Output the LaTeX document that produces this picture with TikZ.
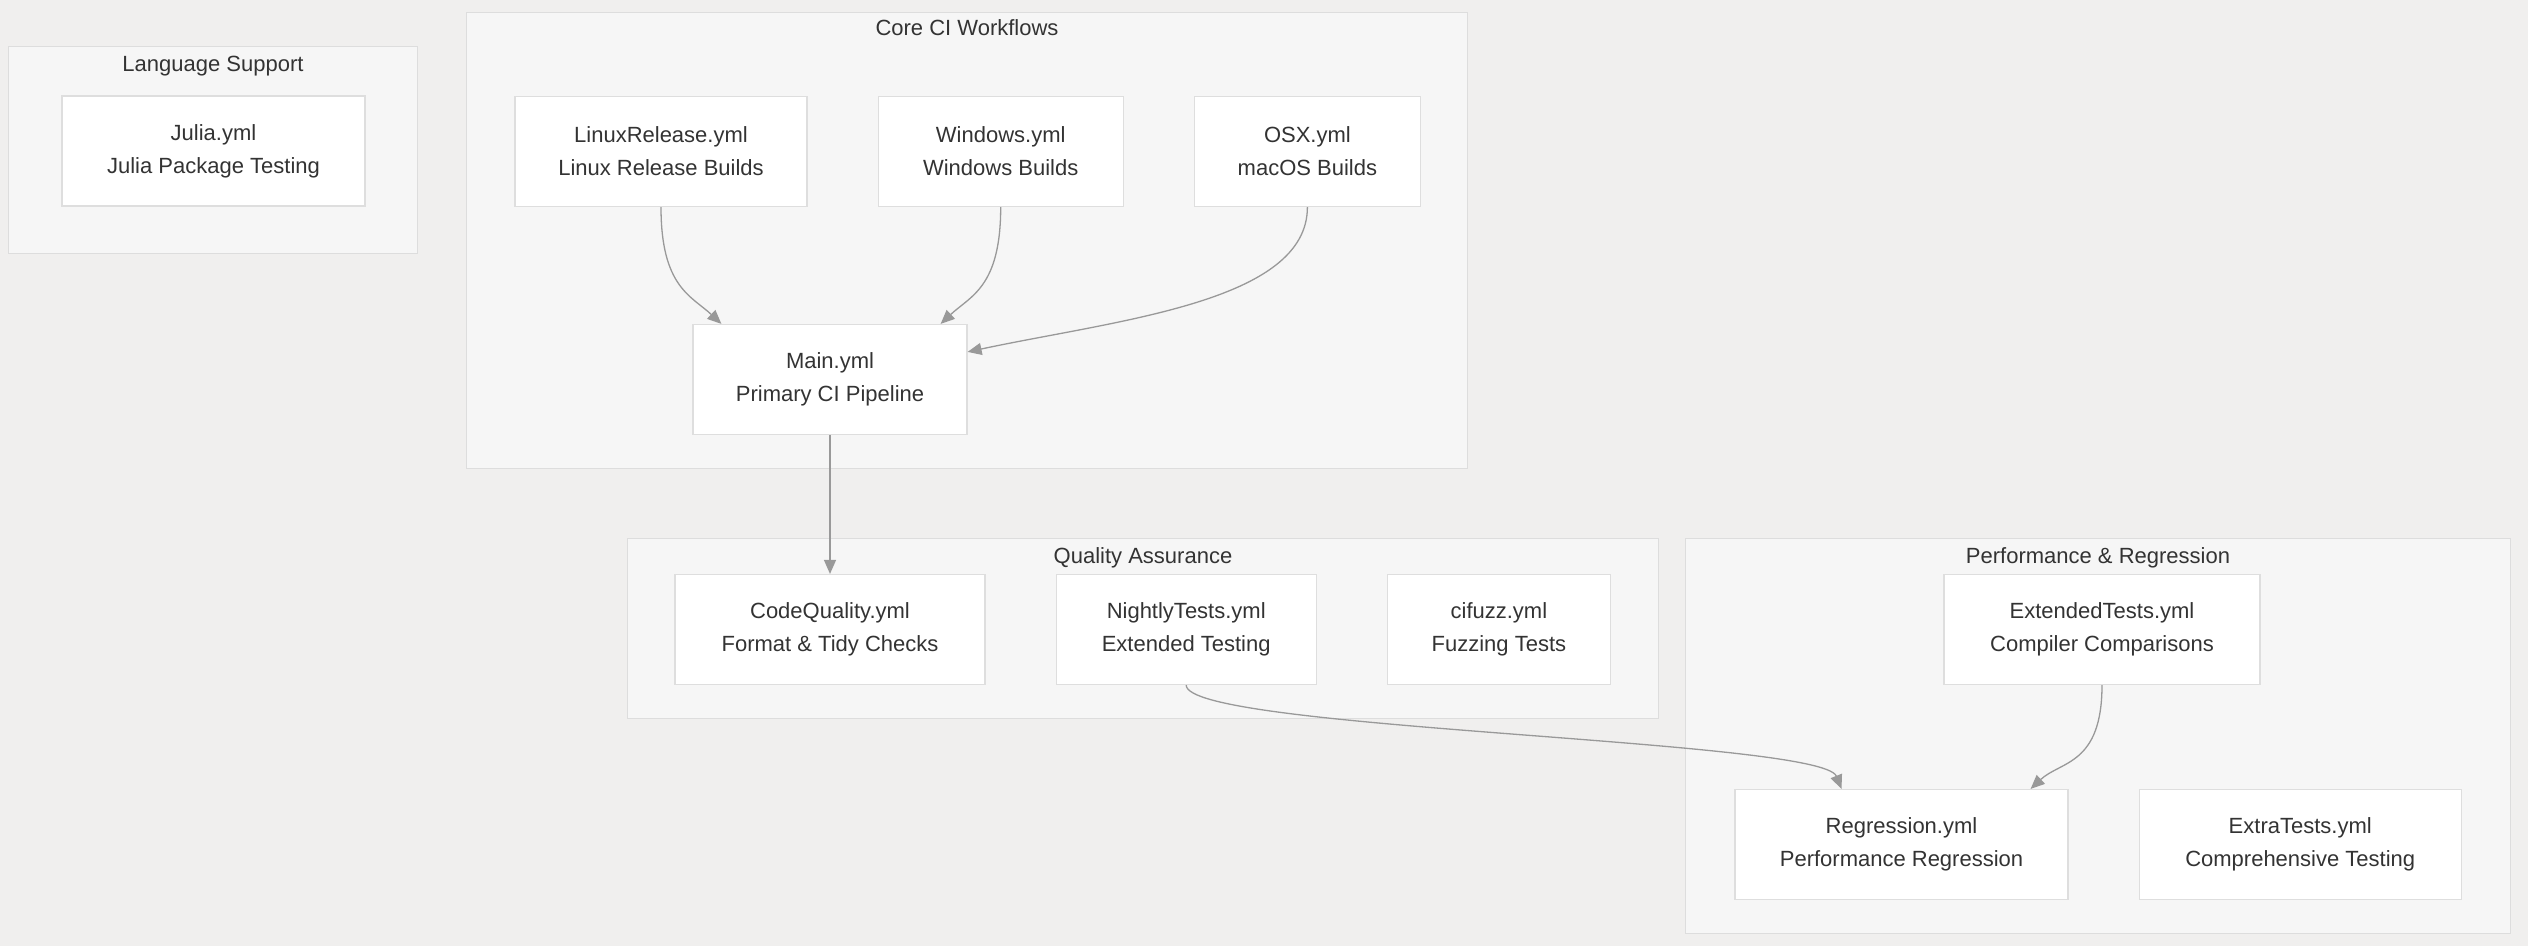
\documentclass[tikz,border=0pt]{standalone}
\usepackage{fontspec}
\setmainfont{Liberation Sans}
\usetikzlibrary{positioning,arrows.meta}
\definecolor{CanvasBG}{RGB}{240,239,238}
\definecolor{GroupFill}{RGB}{246,246,246}
\definecolor{GroupLine}{RGB}{221,221,221}
\definecolor{BoxLine}{RGB}{222,222,222}
\definecolor{TextGrey}{RGB}{51,51,51}
\definecolor{LinkGrey}{RGB}{153,153,153}

\begin{document}
\begin{tikzpicture}[%
      x=1pt, y=-1pt,
      node distance=70pt and 70pt,
      group/.style={rectangle, draw=GroupLine, fill=GroupFill, line width=1pt, anchor=north west, inner sep=0pt},
      grouptitle/.style={anchor=base, font=\fontsize{22}{26}\selectfont, text=TextGrey, inner sep=0pt},
      wf/.style={rectangle, draw=BoxLine, fill=white, line width=1.2pt, align=center, font=\fontsize{22}{33}\selectfont, text=TextGrey, minimum height=110pt, inner sep=0pt},
      arrow/.style={-{Triangle[length=14pt, width=12pt]}, line width=1.3pt, LinkGrey}
    ]
      \fill[CanvasBG] (0,0) rectangle (2528,946);
      \useasboundingbox (0,0) rectangle (2528,946);

      % Groups
      \node[group, minimum width=409pt, minimum height=207pt] (langbox) at (8,46) {};
      \node[group, minimum width=1001pt, minimum height=456pt] (corebox) at (466,12) {};
      \node[group, minimum width=1031pt, minimum height=180pt] (qabox) at (627,538) {};
      \node[group, minimum width=825pt, minimum height=395pt] (perfbox) at (1685,538) {};
      \node[grouptitle] (langtitle) at ([yshift=-25pt]langbox.north) {Language Support};
      \node[grouptitle] (coretitle) at ([yshift=-23pt]corebox.north) {Core CI Workflows};
      \node[grouptitle] (qatitle) at ([yshift=-25pt]qabox.north) {Quality Assurance};
      \node[grouptitle] (perftitle) at ([yshift=-25pt]perfbox.north) {Performance \& Regression};

      % Nodes
      \node[wf, minimum width=303pt] (julia) at (213.5,151) {Julia.yml\\Julia Package Testing};
      \node[wf, minimum width=292pt] (linux) at (661,151.5) {LinuxRelease.yml\\Linux Release Builds};
      \node[wf, minimum width=245pt, right=of linux] (windows) {Windows.yml\\Windows Builds};
      \node[wf, minimum width=226pt, right=of windows] (osx) {OSX.yml\\macOS Builds};
      \node[wf, minimum width=274pt] (main) at (830,379.5) {Main.yml\\Primary CI Pipeline};
      \node[wf, minimum width=310pt] (codequality) at (830,629.5) {CodeQuality.yml\\Format \& Tidy Checks};
      \node[wf, minimum width=260pt, right=of codequality] (nightly) {NightlyTests.yml\\Extended Testing};
      \node[wf, minimum width=223pt, right=of nightly] (cifuzz) {cifuzz.yml\\Fuzzing Tests};
      \node[wf, minimum width=316pt] (extended) at (2102,629.5) {ExtendedTests.yml\\Compiler Comparisons};
      \node[wf, minimum width=333pt] (regression) at (1901.5,844.5) {Regression.yml\\Performance Regression};
      \node[wf, minimum width=322pt, right=of regression] (extra) {ExtraTests.yml\\Comprehensive Testing};

      % Connections
      \draw[arrow] (linux.south) .. controls +(0,80) and +(-30,-28) .. ([xshift=29pt]main.north west);
      \draw[arrow] (windows.south) .. controls +(0,80) and +(30,-28) .. ([xshift=-27pt]main.north east);
      \draw[arrow] (osx.south) .. controls +(0,95) and +(150,-32) .. ([yshift=-28pt]main.north east);
      \draw[arrow] (main) -- (codequality);
      \draw[arrow] (nightly.south) .. controls +(0,45) and +(-20,-50) .. ([xshift=-60pt]regression.north);
      \draw[arrow] (extended.south) .. controls +(0,80) and +(30,-28) .. ([xshift=-38pt]regression.north east);
    \end{tikzpicture}
\end{document}
